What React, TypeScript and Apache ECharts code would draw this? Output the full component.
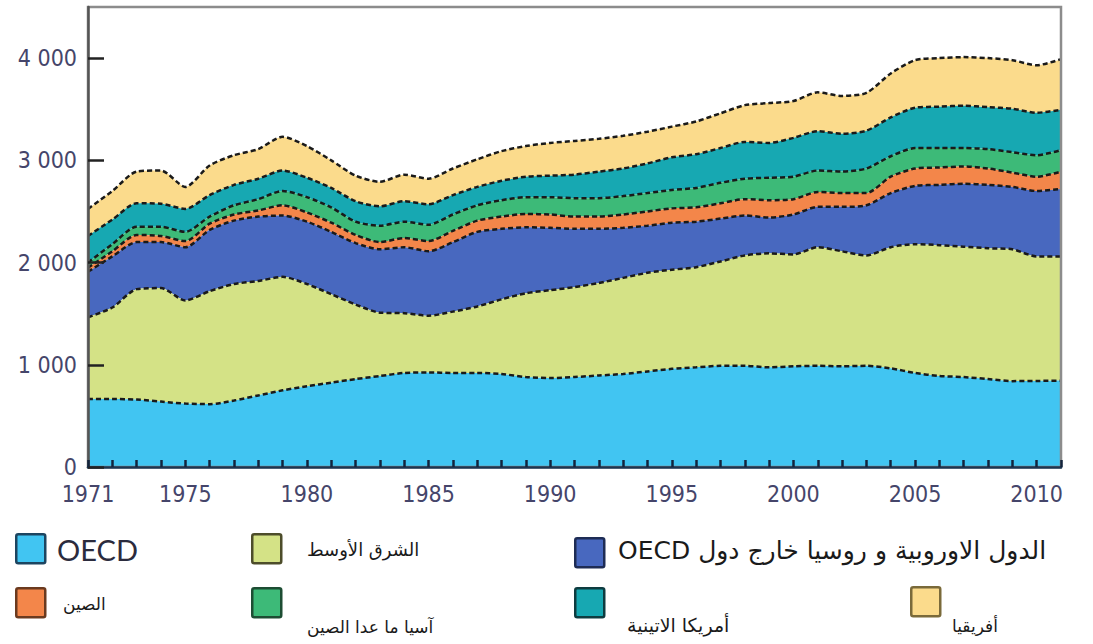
import React, { useEffect, useRef } from "react";
import * as echarts from "echarts";

const years = [
  "1971", "1972", "1973", "1974", "1975", "1976", "1977", "1978", "1979", "1980",
  "1981", "1982", "1983", "1984", "1985", "1986", "1987", "1988", "1989", "1990",
  "1991", "1992", "1993", "1994", "1995", "1996", "1997", "1998", "1999", "2000",
  "2001", "2002", "2003", "2004", "2005", "2006", "2007", "2008", "2009", "2010", "2011",
];
const xLabelYears = ["1971", "1975", "1980", "1985", "1990", "1995", "2000", "2005", "2010"];
const yTickValues = [0, 1000, 2000, 3000, 4000];

const seriesNames = [
  "OECD",
  "الشرق الأوسط",
  "الدول الاوروبية و روسيا خارج دول OECD",
  "الصين",
  "آسيا ما عدا الصين",
  "أمريكا الاتينية",
  "أفريقيا",
];

const oecd = [665, 665, 660, 640, 620, 615, 650, 700, 750, 790, 825, 860, 890, 920, 925, 920, 920, 910, 880, 870, 880, 895, 910, 935, 960, 975, 990, 990, 975, 985, 990, 985, 990, 965, 920, 890, 880, 860, 840, 842, 845];
const middleEast = [800, 895, 1080, 1110, 1010, 1105, 1140, 1120, 1110, 1000, 865, 730, 620, 585, 555, 600, 650, 730, 820, 860, 880, 905, 940, 965, 970, 980, 1020, 1080, 1115, 1095, 1160, 1125, 1080, 1185, 1260, 1280, 1275, 1280, 1290, 1218, 1215];
const europeRussia = [445, 500, 460, 450, 520, 600, 620, 630, 600, 610, 610, 600, 620, 645, 630, 680, 730, 690, 645, 610, 570, 530, 490, 460, 460, 445, 420, 390, 350, 390, 395, 435, 490, 530, 570, 590, 615, 620, 610, 640, 660];
const china = [40, 50, 70, 60, 60, 60, 60, 60, 100, 90, 90, 80, 70, 90, 100, 110, 110, 120, 130, 130, 120, 120, 130, 140, 140, 140, 150, 160, 170, 150, 145, 135, 120, 160, 170, 170, 170, 160, 140, 140, 170];
const asiaExChina = [50, 70, 80, 90, 90, 70, 90, 110, 140, 150, 150, 130, 160, 160, 160, 160, 150, 160, 165, 170, 180, 180, 180, 180, 180, 190, 200, 200, 220, 220, 210, 210, 240, 200, 200, 190, 180, 190, 200, 210, 210];
const latinAmerica = [260, 240, 230, 225, 225, 210, 200, 200, 200, 190, 190, 200, 190, 200, 200, 190, 180, 190, 200, 210, 230, 260, 270, 290, 320, 330, 340, 360, 340, 380, 385, 370, 370, 380, 395, 405, 415, 410, 425, 415, 395];
const africa = [265, 280, 310, 325, 215, 290, 290, 290, 330, 310, 270, 250, 240, 260, 250, 260, 270, 290, 300, 320, 330, 320, 320, 310, 300, 320, 340, 360, 390, 360, 380, 370, 370, 430, 465, 475, 475, 480, 475, 465, 495];

const seriesValues = [oecd, middleEast, europeRussia, china, asiaExChina, latinAmerica, africa];
const fillColors = ["#41c5f2", "#d4e286", "#4868bf", "#f3864a", "#3dba78", "#17a8b2", "#fbdb8c"];
const boxBorders = ["#1d4560", "#4d4d2a", "#1e2c55", "#6b3a1f", "#1d4d33", "#0e3c40", "#7a6a3a"];

// legend layout: [boxX, boxY, textX, textCenterY, fontSize]
const legendLayout = [
  [15, 533, 57, 549, 29],
  [251, 533, 307, 549, 18],
  [574, 537, 618, 550, 25],
  [15, 587, 63, 604, 17],
  [251, 587, 307, 627, 17],
  [574, 587, 627, 625, 19],
  [910, 586, 952, 626, 17],
];

const axisFont = "'DejaVu Sans Condensed', 'Liberation Sans Narrow', sans-serif";

function fmtY(v: number) {
  if (v === 0) return "0";
  const th = Math.floor(v / 1000);
  const rest = String(v % 1000).padStart(3, "0");
  return th + " " + rest;
}

export default function App() {
  const ref = useRef<HTMLDivElement>(null);
  useEffect(() => {
    if (!ref.current) return;
    const chart = echarts.init(ref.current, undefined, { renderer: "svg" });

    const graphic: any[] = [];
    seriesNames.forEach((name, i) => {
      const [bx, by, tx, ty, fs] = legendLayout[i];
      graphic.push({
        type: "rect",
        left: bx,
        top: by,
        shape: { width: 29, height: 29, r: 2 },
        style: { fill: fillColors[i], stroke: boxBorders[i], lineWidth: 2.5 },
        z: 100,
      });
      const isLatin = /^[A-Za-z]+$/.test(name);
      graphic.push({
        type: "text",
        x: tx,
        y: ty,
        style: {
          text: isLatin ? name : (name.indexOf("OECD") >= 0 ? "\u202B" + name + "\u202C" : name),
          fill: isLatin ? "#2b2b3d" : "#1a1a1a",
          font: isLatin ? fs + "px Lato, 'Noto Sans', sans-serif" : fs + "px 'DejaVu Sans', sans-serif",
          textAlign: "left",
          textVerticalAlign: "middle",
        },
        z: 100,
      });
    });

    chart.setOption({
      animation: false,
      backgroundColor: "#ffffff",
      grid: {
        left: 88,
        top: 7,
        right: 32,
        bottom: 177,
        show: true,
        borderColor: "#8c8c8c",
        borderWidth: 2.5,
        z: 20,
      },
      xAxis: {
        type: "category",
        data: years,
        boundaryGap: false,
        z: 20,
        axisLine: { show: true, lineStyle: { color: "#1b3550", width: 2.5 } },
        axisTick: {
          show: true,
          inside: true,
          interval: 0,
          length: 7,
          lineStyle: { color: "#13243d", width: 2.5 },
        },
        axisLabel: {
          interval: (_i: number, v: string) => xLabelYears.indexOf(v) >= 0,
          margin: 15,
          fontSize: 23,
          fontFamily: axisFont,
          color: "#45456a",
        },
        splitLine: { show: false },
      },
      yAxis: {
        type: "value",
        min: 0,
        max: 4500,
        interval: 1000,
        z: 20,
        axisLine: { show: true, lineStyle: { color: "#555", width: 2.5 } },
        axisTick: {
          show: true,
          inside: true,
          length: 16,
          customValues: yTickValues,
          lineStyle: { color: "#222", width: 2.5 },
        },
        axisLabel: {
          customValues: yTickValues,
          formatter: (v: number) => fmtY(v),
          margin: 11,
          fontSize: 23,
          fontFamily: axisFont,
          color: "#45456a",
        },
        splitLine: { show: false },
      },
      series: seriesNames.map((name, i) => ({
        name,
        type: "line",
        stack: "total",
        data: seriesValues[i],
        smooth: 0.25,
        showSymbol: false,
        symbol: "none",
        z: 10 - i,
        lineStyle: { color: "#1a1a1a", width: 2.5, type: [5, 3] },
        areaStyle: { color: fillColors[i], opacity: 1 },
        emphasis: { disabled: true },
      })),
      graphic,
    });
    return () => chart.dispose();
  }, []);

  return (
    <div
      ref={ref}
      style={{ position: "absolute", left: 0, top: 0, width: 1093, height: 644, background: "#fff" }}
    />
  );
}
